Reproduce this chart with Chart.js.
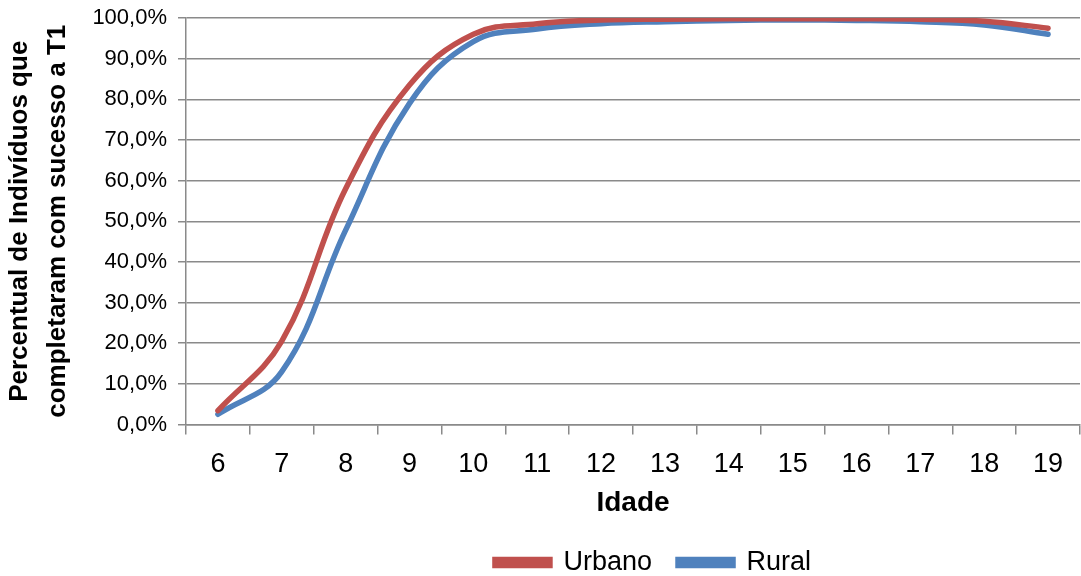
<!DOCTYPE html>
<html>
<head>
<meta charset="utf-8">
<script src="https://cdn.jsdelivr.net/npm/chart.js@4/dist/chart.umd.min.js"></script>
<style>
  html, body { margin: 0; padding: 0; background: #fff; }
  #wrap { width: 1081px; height: 576px; position: relative; }
</style>
</head>
<body>
<div id="wrap"><canvas id="chart"></canvas></div>
<script>
const idades = ['6', '7', '8', '9', '10', '11', '12', '13', '14', '15', '16', '17', '18', '19'];
const urbano = [3.4, 20.5, 58.0, 83.5, 96.0, 98.6, 99.5, 99.7, 99.8, 99.8, 99.8, 99.7, 99.2, 97.5];
const rural  = [2.5, 13.0, 47.8, 79.0, 94.2, 97.3, 98.6, 99.1, 99.4, 99.5, 99.4, 99.1, 98.3, 96.0];
const yTicksMax = 100;

const gridColor = '#8a8a8a';
const fontFamily = "'Liberation Sans', 'DejaVu Sans', sans-serif";

// Excel puts the legend a bit right of the canvas centre
const legendShift = {
    id: 'legendShift',
    afterLayout(chart) {
        const lg = chart.legend;
        if (!lg) return;
        lg.left += 113;
        lg.right += 113;
    }
};

const ctx = document.getElementById('chart').getContext('2d');
new Chart(ctx, {
    type: 'line',
    data: {
        labels: idades,
        datasets: [
            {
                label: 'Urbano',
                data: urbano,
                borderColor: '#c0504d',
                backgroundColor: '#c0504d',
                borderWidth: 5.5,
                pointRadius: 0,
                tension: 0.4,
                borderCapStyle: 'round'
            },
            {
                label: 'Rural',
                data: rural,
                borderColor: '#4f81bd',
                backgroundColor: '#4f81bd',
                borderWidth: 5.5,
                pointRadius: 0,
                tension: 0.4,
                borderCapStyle: 'round'
            }
        ]
    },
    plugins: [legendShift],
    options: {
        responsive: true,
        maintainAspectRatio: false,
        animation: false,
        layout: { padding: { top: 18, right: 1, left: 0, bottom: -10 } },
        plugins: {
            legend: {
                position: 'bottom',
                labels: {
                    boxWidth: 55,
                    boxHeight: 6,
                    padding: 26,
                    color: '#000',
                    font: { family: fontFamily, size: 27 }
                }
            },
            tooltip: { enabled: false }
        },
        scales: {
            x: {
                offset: true,
                grid: {
                    offset: true,
                    drawOnChartArea: false,
                    drawTicks: true,
                    tickLength: 10,
                    color: gridColor,
                    lineWidth: 1.5
                },
                border: { color: gridColor, width: 1.5 },
                ticks: { color: '#000', font: { family: fontFamily, size: 27 }, padding: 14, maxRotation: 0 },
                title: {
                    display: true,
                    text: 'Idade',
                    color: '#000',
                    font: { family: fontFamily, size: 28, weight: 'bold' },
                    padding: { top: 0, bottom: 3 }
                },
                afterFit: scale => { scale.height = 98.5; }
            },
            y: {
                min: 0,
                max: yTicksMax,
                ticks: {
                    stepSize: 10,
                    color: '#000',
                    font: { family: fontFamily, size: 22 },
                    padding: 11,
                    callback: v => v.toFixed(1).replace('.', ',') + '%'
                },
                grid: { color: gridColor, lineWidth: 1.5, tickLength: 8 },
                border: { color: gridColor, width: 1.5 },
                title: {
                    display: true,
                    text: ['Percentual de Indivíduos que', 'completaram com sucesso a T1'],
                    color: '#000',
                    font: { family: fontFamily, size: 26, weight: 'bold', lineHeight: 1.46 },
                    padding: { top: 1, bottom: 0 }
                },
                afterFit: scale => {
                    scale.width = 186;
                    scale.paddingTop = 0;
                    scale.paddingBottom = 0;
                }
            }
        }
    }
});
</script>
</body>
</html>
